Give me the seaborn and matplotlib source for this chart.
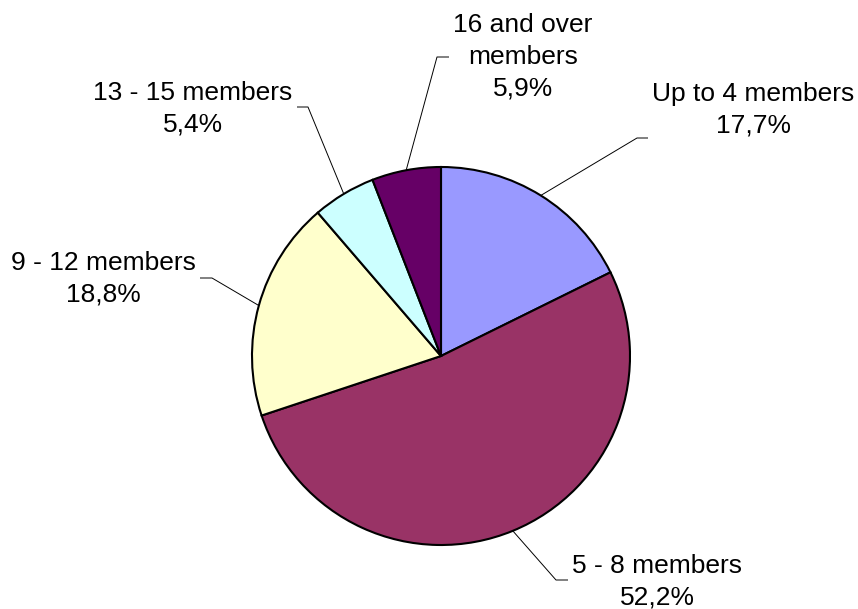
import numpy as np
import matplotlib
matplotlib.use("Agg")
import matplotlib.pyplot as plt
import seaborn as sns

sns.set_theme(style="white")
plt.rcParams['font.family'] = ['Liberation Sans', 'DejaVu Sans']

categories = ["Up to 4 members", "5 - 8 members", "9 - 12 members", "13 - 15 members", "16 and over members"]
label_texts = ["Up to 4 members", "5 - 8 members", "9 - 12 members", "13 - 15 members", "16 and over\nmembers"]
values = [17.7, 52.2, 18.8, 5.4, 5.9]
pct_labels = ["17,7%", "52,2%", "18,8%", "5,4%", "5,9%"]
colors = ["#9999FF", "#993366", "#FFFFCC", "#CCFFFF", "#660066"]

W, H = 858, 609
fig = plt.figure(figsize=(W / 100, H / 100), dpi=100)
ax = fig.add_axes([0, 0, 1, 1])

cx, cy, r = 441, H - 356, 189
wedges, _ = ax.pie(values, colors=colors, startangle=90, counterclock=False,
                   center=(cx, cy), radius=r, frame=True,
                   wedgeprops=dict(edgecolor="black", linewidth=1.5))
ax.set_xlim(0, W)
ax.set_ylim(0, H)
ax.set_aspect("equal")
ax.axis("off")

# layout: elbow point, end of horizontal stub, label centre (pixel coords, y down)
layout = [
    ((637, 138), (648, 138), (753, 110)),
    ((556, 580), (568, 580), (657, 582)),
    ((212, 278), (200, 278), (103, 279)),
    ((308, 107), (297, 107), (193, 109)),
    ((437, 57), (449, 57), (523, 57)),
]

for w, lab, pct, (elb, stub, txt) in zip(wedges, label_texts, pct_labels, layout):
    ang = np.deg2rad((w.theta1 + w.theta2) / 2)
    ax_x = cx + r * np.cos(ang)
    ax_y = cy + r * np.sin(ang)
    xs = [ax_x, elb[0], stub[0]]
    ys = [ax_y, H - elb[1], H - stub[1]]
    ax.plot(xs, ys, color="black", linewidth=0.7, solid_capstyle="butt")
    ax.text(txt[0], H - txt[1], lab + "\n" + pct, ha="center", va="center",
            fontsize=19, color="black", linespacing=1.4)

fig.savefig("out.png", dpi=100)
